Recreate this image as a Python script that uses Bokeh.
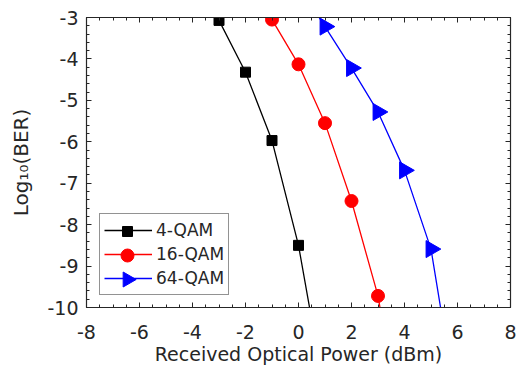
import math
from bokeh.plotting import figure
from bokeh.models import (FixedTicker, LinearAxis, Range1d, Legend, CustomJSTickFormatter)
from bokeh.embed import file_html
from bokeh.resources import INLINE

# Data
x_4qam = [-3, -2, -1, 0, 1]
y_4qam = [-3.07, -4.32, -5.97, -8.5, -12.1]
x_16qam = [-1, 0, 1, 2, 3, 4]
y_16qam = [-3.05, -4.13, -5.55, -7.43, -9.72, -13.5]
x_64qam = [0, 1, 2, 3, 4, 5, 6]
y_64qam = [-2.22, -3.22, -4.22, -5.28, -6.69, -8.59, -12.5]

x_ticks = [-8, -6, -4, -2, 0, 2, 4, 6, 8]
y_ticks = [-10, -9, -8, -7, -6, -5, -4, -3]
x_minor = [-8 + 0.5 * i for i in range(33)]
y_minor = [-10 + 0.2 * i for i in range(36)]

FONT = "DejaVu Sans"
AX = "#262626"
W, H = 516, 370
BL, BR, BT, BB = 86, 6, 17, 63
X0, X1, Y0, Y1 = -8, 8, -10, -3

p = figure(width=W, height=H, output_backend="svg", toolbar_location=None,
           x_range=Range1d(X0, X1), y_range=Range1d(Y0, Y1),
           min_border_left=BL, min_border_right=BR, min_border_top=BT, min_border_bottom=BB)
p.background_fill_color = "white"
p.border_fill_color = "white"
p.outline_line_color = AX
p.outline_line_width = 1.2
p.grid.visible = False

def ticks_style(ax):
    ax.axis_line_color = AX
    ax.major_tick_line_color = AX
    ax.minor_tick_line_color = AX
    ax.major_tick_in = 5
    ax.major_tick_out = 0
    ax.minor_tick_in = 3
    ax.minor_tick_out = 0

plain = CustomJSTickFormatter(code="return tick.toFixed(0)")
xa = p.xaxis[0]
xa.ticker = FixedTicker(ticks=x_ticks, minor_ticks=x_minor)
ya = p.yaxis[0]
ya.ticker = FixedTicker(ticks=y_ticks, minor_ticks=y_minor)
for ax in (xa, ya):
    ticks_style(ax)
    ax.formatter = plain
    ax.major_label_text_font = FONT
    ax.major_label_text_font_size = "19px"
    ax.major_label_text_color = AX
    ax.axis_label_text_font = FONT
    ax.axis_label_text_font_size = "19px"
    ax.axis_label_text_font_style = "normal"
    ax.axis_label_text_color = AX
xa.axis_label = "Received Optical Power (dBm)"
ya.axis_label = "Log\u2081\u2080(BER)"
ya.axis_label_text_font_size = "20px"
xa.major_label_standoff = 17
xa.axis_label_standoff = 1
ya.major_label_standoff = 8
ya.axis_label_standoff = 11

blank = CustomJSTickFormatter(code="return ''")
top = LinearAxis(ticker=FixedTicker(ticks=x_ticks, minor_ticks=x_minor), formatter=blank,
                 major_label_standoff=0)
right = LinearAxis(ticker=FixedTicker(ticks=y_ticks, minor_ticks=y_minor), formatter=blank,
                   major_label_standoff=0)
for ax in (top, right):
    ticks_style(ax)
p.add_layout(top, "above")
p.add_layout(right, "right")

r1 = p.line(x_4qam, y_4qam, line_color="black", line_width=1.3)
m1 = p.scatter(x_4qam, y_4qam, marker="square", size=10, fill_color="black", line_color="black")
r2 = p.line(x_16qam, y_16qam, line_color="#ff0000", line_width=1.3)
m2 = p.scatter(x_16qam, y_16qam, marker="circle", size=13, fill_color="#ff0000", line_color="#ff0000")
r3 = p.line(x_64qam, y_64qam, line_color="#0000ff", line_width=1.3)
m3 = p.scatter(x_64qam, y_64qam, marker="triangle", size=17, angle=-math.pi / 2,
               fill_color="#0000ff", line_color="#0000ff")

LEG_X, LEG_Y, PAD, ROW, GW = 13, 12, 4, 24, 48
legend = Legend(items=[("4-QAM", [r1]), ("16-QAM", [r2]), ("64-QAM", [r3])],
                location=(LEG_X, LEG_Y))
legend.glyph_width = GW
legend.glyph_height = ROW
legend.label_height = ROW
legend.label_standoff = 4
legend.spacing = 0
legend.padding = PAD
legend.margin = 0
legend.label_text_font = FONT
legend.label_text_font_size = "17px"
legend.label_text_color = AX
legend.label_text_baseline = "middle"
legend.border_line_color = AX
legend.border_line_width = 1
legend.background_fill_alpha = 0
p.add_layout(legend, "center")

# marker samples for the legend entries (legend px -> data units)
fw = W - BL - BR
fh = H - BT - BB
cx = LEG_X + PAD + GW / 2
def leg_x():
    return X0 + cx / fw * (X1 - X0)
def leg_y(row_from_bottom):
    return Y0 + (LEG_Y + PAD + ROW * row_from_bottom + ROW / 2) / fh * (Y1 - Y0)
p.scatter([leg_x()], [leg_y(2)], marker="square", size=10, fill_color="black", line_color="black")
p.scatter([leg_x()], [leg_y(1)], marker="circle", size=13, fill_color="#ff0000", line_color="#ff0000")
p.scatter([leg_x()], [leg_y(0)], marker="triangle", size=15, angle=-math.pi / 2,
          fill_color="#0000ff", line_color="#0000ff")

open("out.html", "w").write(file_html(p, INLINE))
